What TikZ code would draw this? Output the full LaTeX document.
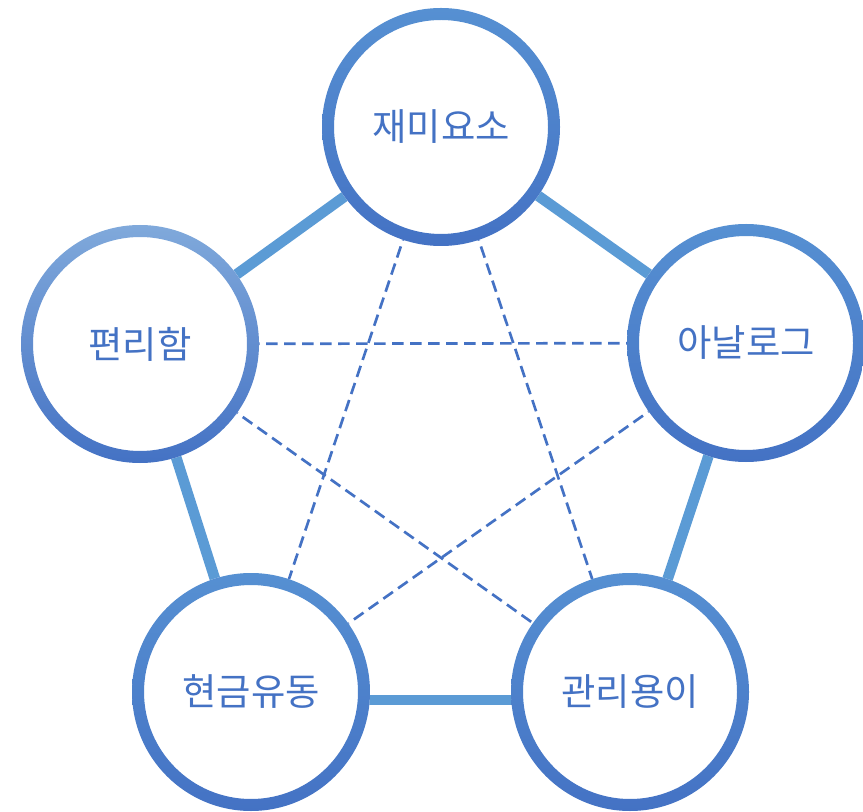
\documentclass[tikz,border=0pt]{standalone}
\usepackage{fontspec}
\newfontfamily\kr{Noto Sans CJK KR}
\usetikzlibrary{backgrounds}
\definecolor{ring}{HTML}{4472C4}
\definecolor{ringtop}{HTML}{5690D2}
\definecolor{ringtopl}{HTML}{80A9DB}
\definecolor{edgeblue}{HTML}{5B9BD5}
\begin{document}
\begin{tikzpicture}[x=0.75pt,y=-0.75pt,
  bub/.style={circle, minimum size=178.5pt, inner sep=0pt, fill=white, text=ring,
    font=\kr\fontsize{28}{32}\selectfont},
  link/.style={edgeblue, line width=8pt},
  cross/.style={ring, line width=2pt, dash pattern=on 8.8pt off 4.7pt}]
\useasboundingbox (0,0) rectangle (863,812);
\node[bub] (A) at (441,127) {재미요소};
\node[bub] (B) at (140,344) {편리함};
\node[bub] (C) at (746,343) {아날로그};
\node[bub] (D) at (251,692) {현금유동};
\node[bub] (E) at (630,692) {관리용이};
\begin{scope}[on background layer]
  \draw[link] (A.center) -- (C.center);
  \draw[link] (C.center) -- (E.center);
  \draw[link] ([yshift=-6pt]D.center) -- ([yshift=-6pt]E.center);
  \draw[link] (D.center) -- (B.center);
  \draw[link] (B.center) -- (A.center);
  \draw[cross] (B.center) -- (C.center);
  \draw[cross] (A.center) -- (D.center);
  \draw[cross] (A.center) -- (E.center);
  \draw[cross] (B.center) -- (E.center);
  \draw[cross] (C.center) -- (D.center);
\end{scope}
\foreach \n in {A,C,D,E}
  \shade[even odd rule, top color=ringtop, middle color=ring, bottom color=ring]
    (\n.center) circle (119) (\n.center) circle (107);
\shade[even odd rule, top color=ringtopl, middle color=ring, bottom color=ring]
  (B.center) circle (119) (B.center) circle (107);
\end{tikzpicture}
\end{document}
